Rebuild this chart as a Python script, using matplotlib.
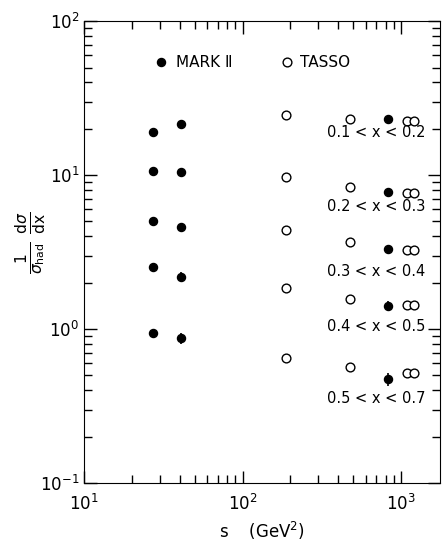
import numpy as np
import matplotlib
matplotlib.use("Agg")
import matplotlib.pyplot as plt
from matplotlib.ticker import LogLocator, NullFormatter

# data
# MARK II (SPEAR) and MARK II (PEP)
mk_s = [27, 41, 830]
mk_vals = [
    [19.1, 10.6, 5.0, 2.52, 0.946],
    [21.4, 10.5, 4.6, 2.19, 0.87],
    [23.0, 7.77, 3.30, 1.42, 0.471],
]
mk_err = [
    [0, 0, 0, 0, 0],
    [0, 0, 0, 0.16, 0.07],
    [0, 0, 0, 0.11, 0.045],
]

# TASSO
ts_s = [188, 477, 1097, 1213]
ts_vals = [
    [24.7, 9.76, 4.4, 1.84, 0.652],
    [23.0, 8.4, 3.66, 1.57, 0.564],
    [22.5, 7.7, 3.27, 1.43, 0.515],
    [22.5, 7.7, 3.27, 1.43, 0.515],
]

bin_labels = ["0.1 < x < 0.2", "0.2 < x < 0.3", "0.3 < x < 0.4",
              "0.4 < x < 0.5", "0.5 < x < 0.7"]
label_s = 700
label_y = [19.0, 6.22, 2.35, 1.035, 0.355]

plt.rcParams['font.family'] = ['DejaVu Sans']
plt.rcParams['mathtext.fontset'] = 'dejavusans'

fig = plt.figure(figsize=(4.43, 5.43), dpi=100)
ax = fig.add_axes([0.19, 0.1105, 0.803, 0.8505])

for s, v, e in zip(mk_s, mk_vals, mk_err):
    ax.errorbar([s] * len(v), v, yerr=e, fmt='o', color='black', ms=5.8,
                elinewidth=1.2, capsize=0, zorder=3)
for s, v in zip(ts_s, ts_vals):
    ax.plot([s] * len(v), v, 'o', mfc='white', mec='black', mew=1.0, ms=6.3, ls='none')

for lab, y in zip(bin_labels, label_y):
    ax.text(label_s, y, lab, ha='center', va='center', fontsize=10.5)

# legend
ax.plot([0.216], [0.911], 'o', color='black', ms=5.8, transform=ax.transAxes)
ax.text(0.258, 0.911, "MARK \u2161", transform=ax.transAxes, va='center', fontsize=11)
ax.plot([0.570], [0.911], 'o', mfc='white', mec='black', mew=1.0, ms=6.3, transform=ax.transAxes)
ax.text(0.607, 0.911, "TASSO", transform=ax.transAxes, va='center', fontsize=11)

ax.set_xscale('log')
ax.set_yscale('log')
ax.set_xlim(10, 1760)
ax.set_ylim(0.1, 100)

ax.xaxis.set_minor_locator(LogLocator(base=10, subs=np.arange(2, 10)))
ax.yaxis.set_minor_locator(LogLocator(base=10, subs=np.arange(2, 10)))
ax.xaxis.set_minor_formatter(NullFormatter())
ax.yaxis.set_minor_formatter(NullFormatter())
ax.tick_params(which='both', direction='in', top=True, right=True, labelsize=12)
ax.tick_params(which='major', length=9, width=1)
ax.tick_params(which='minor', length=6, width=1)
ax.tick_params(axis='x', pad=8)

ax.set_xlabel(r"s    (GeV$^2$)", fontsize=12, labelpad=4)
ax.set_ylabel(r"$\frac{1}{\sigma_{\mathrm{had}}}\ \frac{\mathrm{d}\sigma}{\mathrm{dx}}$", fontsize=16)
ax.yaxis.label.set_va('center')
ax.yaxis.set_label_coords(-0.152, 0.52)

fig.savefig("out.png", dpi=100)
